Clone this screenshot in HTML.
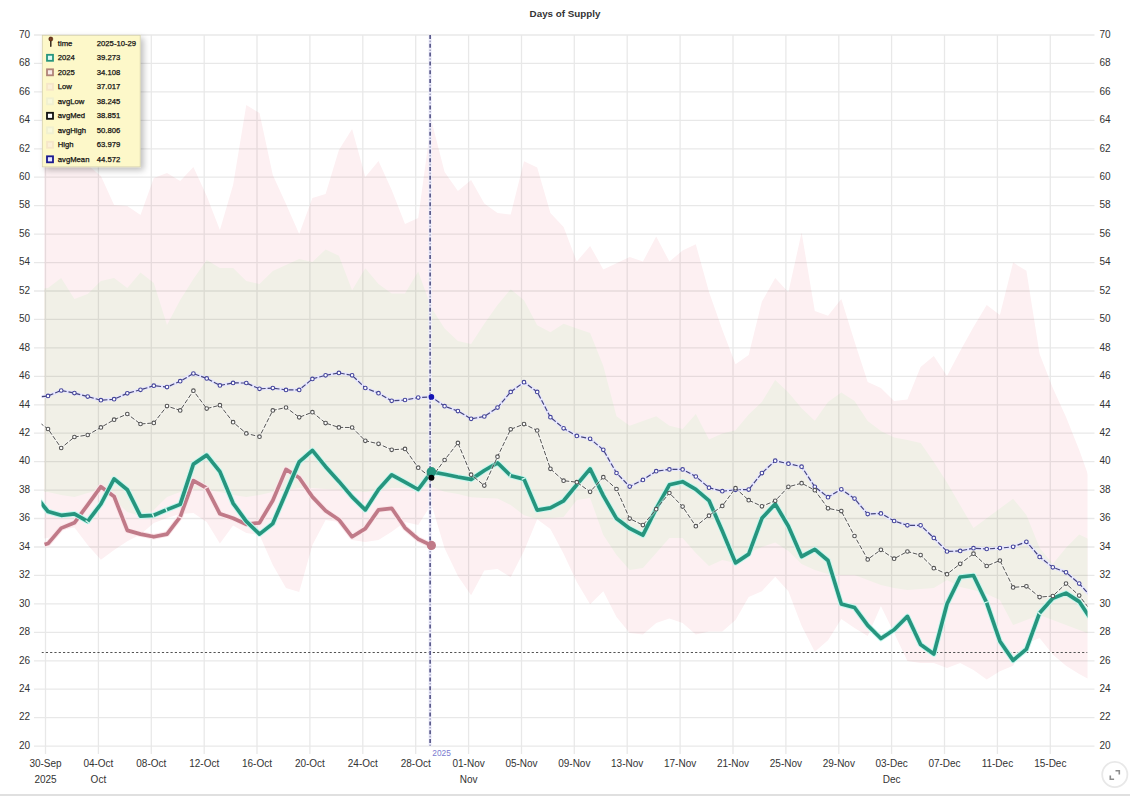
<!DOCTYPE html><html><head><meta charset="utf-8"><style>
html,body{margin:0;padding:0;background:#fff;}
body{width:1130px;height:797px;overflow:hidden;position:relative;font-family:"Liberation Sans",sans-serif;}
svg{position:absolute;left:0;top:0;}
svg text{font-family:"Liberation Sans",sans-serif;}
</style></head><body>
<svg width="1130" height="797" viewBox="0 0 1130 797">
<defs>
<clipPath id="fc"><rect x="44.3" y="34.0" width="1043.2" height="713.1"/></clipPath>
<clipPath id="pc"><rect x="41.5" y="34.0" width="1046.0" height="713.1"/></clipPath>
<filter id="sh" x="-20%" y="-20%" width="140%" height="140%"><feGaussianBlur in="SourceAlpha" stdDeviation="3"/><feOffset dx="2.5" dy="2.5"/><feComponentTransfer><feFuncA type="linear" slope="0.26"/></feComponentTransfer><feMerge><feMergeNode/><feMergeNode in="SourceGraphic"/></feMerge></filter>
</defs>
<text x="565" y="17" text-anchor="middle" font-size="9.8" font-weight="bold" fill="#333">Days of Supply</text>
<g clip-path="url(#fc)">
<polygon points="34.8,150.0 48.0,150.0 61.2,152.0 74.4,158.0 87.7,165.0 100.9,176.0 114.1,205.0 127.3,206.0 140.5,215.0 153.8,178.0 167.0,173.0 180.2,181.0 193.4,167.0 206.7,196.0 219.9,230.0 233.1,185.0 246.3,105.0 259.5,113.0 272.8,175.0 286.0,204.0 299.2,234.0 312.4,198.0 325.6,194.0 338.9,150.0 352.1,129.0 365.3,177.0 378.5,161.0 391.7,190.0 405.0,224.0 418.2,218.0 431.4,120.5 444.6,172.0 457.9,191.0 471.1,180.0 484.3,203.5 497.5,213.0 510.7,214.5 524.0,161.2 537.2,167.5 550.4,213.0 563.6,227.1 576.8,261.6 590.1,245.9 603.3,269.4 616.5,263.2 629.7,257.0 642.9,261.6 656.2,236.5 669.4,261.6 682.6,250.6 695.8,244.3 709.0,292.0 722.3,329.8 735.5,364.3 748.7,354.9 761.9,301.6 775.2,278.0 788.4,292.2 801.6,232.6 814.8,311.0 828.0,315.7 841.3,299.0 854.5,341.5 867.7,382.0 880.9,388.0 894.1,401.0 907.4,399.5 920.6,367.0 933.8,356.0 947.0,376.0 960.2,351.0 973.5,327.0 986.7,305.0 999.9,315.0 1013.1,262.6 1026.4,270.8 1039.6,354.0 1052.8,388.0 1066.0,417.0 1079.2,450.0 1092.5,487.0 1092.5,681.0 1079.2,674.0 1066.0,665.7 1052.8,654.6 1039.6,638.0 1026.4,643.6 1013.1,665.7 999.9,671.2 986.7,679.5 973.5,670.0 960.2,663.0 947.0,668.0 933.8,662.9 920.6,662.9 907.4,661.0 894.1,633.0 880.9,606.0 867.7,636.0 854.5,628.0 841.3,619.0 828.0,640.2 814.8,651.8 801.6,625.8 788.4,591.2 775.2,576.8 761.9,591.2 748.7,597.0 735.5,620.0 722.3,631.6 709.0,631.6 695.8,634.5 682.6,622.9 669.4,618.6 656.2,622.9 642.9,634.5 629.7,633.0 616.5,617.1 603.3,591.2 590.1,604.2 576.8,582.0 563.6,553.8 550.4,529.0 537.2,519.3 524.0,551.1 510.7,577.3 497.5,569.0 484.3,570.4 471.1,595.2 457.9,575.9 444.6,548.3 431.4,504.3 418.2,524.9 405.0,522.1 391.7,531.8 378.5,540.0 365.3,542.0 352.1,540.0 338.9,522.0 325.6,520.0 312.4,545.0 299.2,592.0 286.0,588.0 272.8,565.0 259.5,535.0 246.3,533.0 233.1,525.5 219.9,543.5 206.7,522.0 193.4,513.0 180.2,514.0 167.0,518.0 153.8,523.0 140.5,534.4 127.3,541.3 114.1,550.0 100.9,559.7 87.7,545.0 74.4,527.5 61.2,530.0 48.0,538.0 34.8,540.0" fill="#fdf0f2"/>
<polygon points="34.8,290.0 48.0,288.0 61.2,278.0 74.4,299.0 87.7,294.0 100.9,281.0 114.1,278.0 127.3,288.0 140.5,272.5 153.8,283.0 167.0,325.0 180.2,300.0 193.4,279.0 206.7,260.0 219.9,268.0 233.1,268.0 246.3,281.0 259.5,284.0 272.8,271.0 286.0,265.0 299.2,259.0 312.4,262.0 325.6,249.4 338.9,255.7 352.1,290.2 365.3,268.3 378.5,284.0 391.7,293.4 405.0,293.4 418.2,271.4 431.4,307.7 444.6,328.4 457.9,341.0 471.1,344.1 484.3,323.7 497.5,304.9 510.7,289.2 524.0,300.2 537.2,325.3 550.4,332.2 563.6,323.7 576.8,328.4 590.1,333.1 603.3,366.1 616.5,416.3 629.7,425.7 642.9,421.0 656.2,416.3 669.4,425.7 682.6,428.9 695.8,414.0 709.0,439.6 722.3,433.4 735.5,430.2 748.7,414.5 761.9,402.0 775.2,380.0 788.4,392.6 801.6,408.3 814.8,420.8 828.0,402.0 841.3,392.6 854.5,401.0 867.7,421.0 880.9,431.0 894.1,437.5 907.4,440.0 920.6,443.0 933.8,462.0 947.0,482.4 960.2,505.3 973.5,528.1 986.7,518.3 999.9,508.5 1013.1,498.7 1026.4,515.0 1039.6,547.7 1052.8,564.0 1066.0,547.7 1079.2,534.6 1092.5,541.0 1092.5,635.0 1079.2,630.0 1066.0,625.0 1052.8,620.0 1039.6,615.0 1026.4,620.0 1013.1,625.0 999.9,600.0 986.7,594.0 973.5,590.0 960.2,587.0 947.0,580.0 933.8,588.0 920.6,589.0 907.4,590.0 894.1,588.0 880.9,585.0 867.7,580.0 854.5,575.0 841.3,575.0 828.0,574.0 814.8,570.0 801.6,564.0 788.4,551.0 775.2,542.5 761.9,547.0 748.7,553.0 735.5,563.0 722.3,560.0 709.0,566.0 695.8,553.0 682.6,538.0 669.4,538.0 656.2,553.0 642.9,568.0 629.7,570.0 616.5,555.0 603.3,535.0 590.1,498.0 576.8,500.0 563.6,517.0 550.4,518.0 537.2,519.0 524.0,515.2 510.7,505.0 497.5,498.6 484.3,498.0 471.1,497.3 457.9,494.0 444.6,491.7 431.4,486.7 418.2,487.0 405.0,488.0 391.7,488.0 378.5,490.0 365.3,492.0 352.1,491.0 338.9,490.0 325.6,489.0 312.4,488.0 299.2,488.0 286.0,490.0 272.8,492.0 259.5,495.0 246.3,497.0 233.1,495.0 219.9,492.0 206.7,490.0 193.4,490.0 180.2,492.0 167.0,497.0 153.8,510.0 140.5,516.0 127.3,512.0 114.1,500.0 100.9,490.0 87.7,493.0 74.4,497.0 61.2,495.0 48.0,492.0 34.8,492.0" fill="#f1f0e7"/>
</g>
<path d="M34 746.1H1094.5 M34 717.7H1094.5 M34 689.2H1094.5 M34 660.8H1094.5 M34 632.3H1094.5 M34 603.9H1094.5 M34 575.4H1094.5 M34 547.0H1094.5 M34 518.5H1094.5 M34 490.1H1094.5 M34 461.7H1094.5 M34 433.2H1094.5 M34 404.8H1094.5 M34 376.3H1094.5 M34 347.9H1094.5 M34 319.4H1094.5 M34 291.0H1094.5 M34 262.6H1094.5 M34 234.1H1094.5 M34 205.7H1094.5 M34 177.2H1094.5 M34 148.8H1094.5 M34 120.3H1094.5 M34 91.9H1094.5 M34 63.4H1094.5 M34 35.0H1094.5 M45.5 35.0V754 M98.4 35.0V754 M151.3 35.0V754 M204.2 35.0V754 M257.0 35.0V754 M309.9 35.0V754 M362.8 35.0V754 M415.7 35.0V754 M468.6 35.0V754 M521.5 35.0V754 M574.3 35.0V754 M627.2 35.0V754 M680.1 35.0V754 M733.0 35.0V754 M785.9 35.0V754 M838.8 35.0V754 M891.6 35.0V754 M944.5 35.0V754 M997.4 35.0V754 M1050.3 35.0V754" stroke="#000" stroke-opacity="0.09" stroke-width="1.3" fill="none"/>
<g font-size="10" fill="#333"><text x="30" y="748.8" text-anchor="end">20</text><text x="1099.5" y="748.8">20</text><text x="30" y="720.4" text-anchor="end">22</text><text x="1099.5" y="720.4">22</text><text x="30" y="691.9" text-anchor="end">24</text><text x="1099.5" y="691.9">24</text><text x="30" y="663.5" text-anchor="end">26</text><text x="1099.5" y="663.5">26</text><text x="30" y="635.0" text-anchor="end">28</text><text x="1099.5" y="635.0">28</text><text x="30" y="606.6" text-anchor="end">30</text><text x="1099.5" y="606.6">30</text><text x="30" y="578.1" text-anchor="end">32</text><text x="1099.5" y="578.1">32</text><text x="30" y="549.7" text-anchor="end">34</text><text x="1099.5" y="549.7">34</text><text x="30" y="521.2" text-anchor="end">36</text><text x="1099.5" y="521.2">36</text><text x="30" y="492.8" text-anchor="end">38</text><text x="1099.5" y="492.8">38</text><text x="30" y="464.4" text-anchor="end">40</text><text x="1099.5" y="464.4">40</text><text x="30" y="435.9" text-anchor="end">42</text><text x="1099.5" y="435.9">42</text><text x="30" y="407.5" text-anchor="end">44</text><text x="1099.5" y="407.5">44</text><text x="30" y="379.0" text-anchor="end">46</text><text x="1099.5" y="379.0">46</text><text x="30" y="350.6" text-anchor="end">48</text><text x="1099.5" y="350.6">48</text><text x="30" y="322.1" text-anchor="end">50</text><text x="1099.5" y="322.1">50</text><text x="30" y="293.7" text-anchor="end">52</text><text x="1099.5" y="293.7">52</text><text x="30" y="265.3" text-anchor="end">54</text><text x="1099.5" y="265.3">54</text><text x="30" y="236.8" text-anchor="end">56</text><text x="1099.5" y="236.8">56</text><text x="30" y="208.4" text-anchor="end">58</text><text x="1099.5" y="208.4">58</text><text x="30" y="179.9" text-anchor="end">60</text><text x="1099.5" y="179.9">60</text><text x="30" y="151.5" text-anchor="end">62</text><text x="1099.5" y="151.5">62</text><text x="30" y="123.0" text-anchor="end">64</text><text x="1099.5" y="123.0">64</text><text x="30" y="94.6" text-anchor="end">66</text><text x="1099.5" y="94.6">66</text><text x="30" y="66.1" text-anchor="end">68</text><text x="1099.5" y="66.1">68</text><text x="30" y="37.7" text-anchor="end">70</text><text x="1099.5" y="37.7">70</text><text x="45.5" y="767" text-anchor="middle">30-Sep</text><text x="45.5" y="782.5" text-anchor="middle">2025</text><text x="98.4" y="767" text-anchor="middle">04-Oct</text><text x="98.4" y="782.5" text-anchor="middle">Oct</text><text x="151.3" y="767" text-anchor="middle">08-Oct</text><text x="204.2" y="767" text-anchor="middle">12-Oct</text><text x="257.0" y="767" text-anchor="middle">16-Oct</text><text x="309.9" y="767" text-anchor="middle">20-Oct</text><text x="362.8" y="767" text-anchor="middle">24-Oct</text><text x="415.7" y="767" text-anchor="middle">28-Oct</text><text x="468.6" y="767" text-anchor="middle">01-Nov</text><text x="468.6" y="782.5" text-anchor="middle">Nov</text><text x="521.5" y="767" text-anchor="middle">05-Nov</text><text x="574.3" y="767" text-anchor="middle">09-Nov</text><text x="627.2" y="767" text-anchor="middle">13-Nov</text><text x="680.1" y="767" text-anchor="middle">17-Nov</text><text x="733.0" y="767" text-anchor="middle">21-Nov</text><text x="785.9" y="767" text-anchor="middle">25-Nov</text><text x="838.8" y="767" text-anchor="middle">29-Nov</text><text x="891.6" y="767" text-anchor="middle">03-Dec</text><text x="891.6" y="782.5" text-anchor="middle">Dec</text><text x="944.5" y="767" text-anchor="middle">07-Dec</text><text x="997.4" y="767" text-anchor="middle">11-Dec</text><text x="1050.3" y="767" text-anchor="middle">15-Dec</text></g>
<g clip-path="url(#pc)">
<path d="M41.5 652.5H1087.5" stroke="#4a4a4a" stroke-width="0.95" stroke-dasharray="2.2 2.1"/>
<polyline points="44.6,544.6 48.0,543.6 61.2,528.1 74.4,522.8 87.7,504.8 100.9,486.7 114.1,496.5 127.3,530.4 140.5,534.1 153.8,536.8 167.0,534.1 180.2,516.8 193.4,480.7 206.7,488.2 219.9,513.8 233.1,518.3 246.3,524.3 259.5,522.8 272.8,500.5 286.0,469.4 299.2,477.7 312.4,496.9 325.6,510.7 338.9,519.7 352.1,536.8 365.3,528.6 378.5,509.9 391.7,508.3 405.0,527.8 418.2,539.2 431.4,545.4" fill="none" stroke="#fbe6ea" stroke-width="5.6" stroke-linejoin="round"/>
<polyline points="44.6,544.6 48.0,543.6 61.2,528.1 74.4,522.8 87.7,504.8 100.9,486.7 114.1,496.5 127.3,530.4 140.5,534.1 153.8,536.8 167.0,534.1 180.2,516.8 193.4,480.7 206.7,488.2 219.9,513.8 233.1,518.3 246.3,524.3 259.5,522.8 272.8,500.5 286.0,469.4 299.2,477.7 312.4,496.9 325.6,510.7 338.9,519.7 352.1,536.8 365.3,528.6 378.5,509.9 391.7,508.3 405.0,527.8 418.2,539.2 431.4,545.4" fill="none" stroke="#c07a88" stroke-width="3.7" stroke-linejoin="round"/>
<g fill="none"><path d="M179.76 518.02L180.21 516.80" stroke="#fbe6ea" stroke-width="4.2"/><path d="M206.06 487.04L206.65 488.20" stroke="#fbe6ea" stroke-width="4.2"/></g>
<polyline points="34.8,495.0 48.0,511.5 61.2,515.3 74.4,513.8 87.7,521.3 100.9,504.0 114.1,478.9 127.3,489.7 140.5,516.1 153.8,515.3 167.0,509.6 180.2,504.4 193.4,464.1 206.7,455.1 219.9,471.6 233.1,503.3 246.3,521.3 259.5,534.1 272.8,523.6 286.0,492.7 299.2,461.8 312.4,450.4 325.6,466.7 338.9,481.4 352.1,496.9 365.3,509.9 378.5,489.5 391.7,474.8 405.0,482.2 418.2,489.5 431.4,471.9 444.6,474.2 457.9,477.0 471.1,479.4 484.3,470.5 497.5,462.8 510.7,475.8 524.0,479.1 537.2,510.1 550.4,507.9 563.6,500.8 576.8,484.8 590.1,468.9 603.3,495.6 616.5,518.6 629.7,528.4 642.9,535.2 656.2,508.6 669.4,484.8 682.6,481.7 695.8,489.3 709.0,500.6 722.3,531.0 735.5,562.9 748.7,554.1 761.9,518.3 775.2,503.9 788.4,526.3 801.6,556.5 814.8,549.4 828.0,560.5 841.3,604.0 854.5,607.5 867.7,625.4 880.9,638.5 894.1,629.7 907.4,616.4 920.6,644.5 933.8,654.0 947.0,604.0 960.2,577.0 973.5,575.5 986.7,602.8 999.9,641.2 1013.1,660.4 1026.4,649.1 1039.6,612.9 1052.8,598.3 1066.0,593.1 1079.2,601.6 1092.5,621.8" fill="none" stroke="#c4f7ee" stroke-width="5.6" stroke-linejoin="round"/>
<polyline points="34.8,495.0 48.0,511.5 61.2,515.3 74.4,513.8 87.7,521.3 100.9,504.0 114.1,478.9 127.3,489.7 140.5,516.1 153.8,515.3 167.0,509.6 180.2,504.4 193.4,464.1 206.7,455.1 219.9,471.6 233.1,503.3 246.3,521.3 259.5,534.1 272.8,523.6 286.0,492.7 299.2,461.8 312.4,450.4 325.6,466.7 338.9,481.4 352.1,496.9 365.3,509.9 378.5,489.5 391.7,474.8 405.0,482.2 418.2,489.5 431.4,471.9 444.6,474.2 457.9,477.0 471.1,479.4 484.3,470.5 497.5,462.8 510.7,475.8 524.0,479.1 537.2,510.1 550.4,507.9 563.6,500.8 576.8,484.8 590.1,468.9 603.3,495.6 616.5,518.6 629.7,528.4 642.9,535.2 656.2,508.6 669.4,484.8 682.6,481.7 695.8,489.3 709.0,500.6 722.3,531.0 735.5,562.9 748.7,554.1 761.9,518.3 775.2,503.9 788.4,526.3 801.6,556.5 814.8,549.4 828.0,560.5 841.3,604.0 854.5,607.5 867.7,625.4 880.9,638.5 894.1,629.7 907.4,616.4 920.6,644.5 933.8,654.0 947.0,604.0 960.2,577.0 973.5,575.5 986.7,602.8 999.9,641.2 1013.1,660.4 1026.4,649.1 1039.6,612.9 1052.8,598.3 1066.0,593.1 1079.2,601.6 1092.5,621.8" fill="none" stroke="#26957e" stroke-width="3.7" stroke-linejoin="round"/>
<g fill="none"><path d="M86.87 522.33L87.66 521.30" stroke="#d4faf2" stroke-width="4.2"/><path d="M152.57 515.81L153.77 515.30" stroke="#d4faf2" stroke-width="4.2"/><path d="M165.78 510.08L166.99 509.60" stroke="#d4faf2" stroke-width="4.2"/><path d="M509.47 475.49L510.74 475.80" stroke="#d4faf2" stroke-width="4.2"/><path d="M523.45 477.90L523.96 479.10" stroke="#d4faf2" stroke-width="4.2"/><path d="M986.27 601.57L986.69 602.80" stroke="#d4faf2" stroke-width="4.2"/><path d="M1038.70 613.86L1039.58 612.90" stroke="#d4faf2" stroke-width="4.2"/></g>
<polyline points="34.8,397.5 48.0,395.9 61.2,390.5 74.4,393.1 87.7,396.6 100.9,400.2 114.1,399.2 127.3,393.3 140.5,389.8 153.8,385.7 167.0,387.1 180.2,381.2 193.4,373.5 206.7,378.4 219.9,385.4 233.1,382.9 246.3,383.0 259.5,388.8 272.8,388.1 286.0,389.9 299.2,389.9 312.4,378.9 325.6,375.3 338.9,372.9 352.1,375.3 365.3,388.0 378.5,393.2 391.7,400.8 405.0,400.0 418.2,397.6 431.4,396.9 444.6,406.2 457.9,411.1 471.1,418.8 484.3,416.5 497.5,407.6 510.7,391.9 524.0,382.2 537.2,391.9 550.4,417.2 563.6,428.3 576.8,435.9 590.1,438.8 603.3,449.8 616.5,473.0 629.7,486.6 642.9,479.9 656.2,471.2 669.4,469.4 682.6,469.4 695.8,476.5 709.0,487.7 722.3,491.2 735.5,489.8 748.7,489.6 761.9,473.1 775.2,460.7 788.4,463.7 801.6,466.7 814.8,486.8 828.0,497.2 841.3,489.3 854.5,498.6 867.7,514.1 880.9,513.4 894.1,521.0 907.4,525.3 920.6,525.3 933.8,537.9 947.0,551.5 960.2,550.9 973.5,548.2 986.7,549.0 999.9,548.1 1013.1,546.8 1026.4,541.8 1039.6,556.9 1052.8,567.3 1066.0,572.3 1079.2,583.6 1092.5,598.2" fill="none" stroke="#e4e4ff" stroke-width="3.2" stroke-linejoin="round"/>
<polyline points="34.8,397.5 48.0,395.9 61.2,390.5 74.4,393.1 87.7,396.6 100.9,400.2 114.1,399.2 127.3,393.3 140.5,389.8 153.8,385.7 167.0,387.1 180.2,381.2 193.4,373.5 206.7,378.4 219.9,385.4 233.1,382.9 246.3,383.0 259.5,388.8 272.8,388.1 286.0,389.9 299.2,389.9 312.4,378.9 325.6,375.3 338.9,372.9 352.1,375.3 365.3,388.0 378.5,393.2 391.7,400.8 405.0,400.0 418.2,397.6 431.4,396.9 444.6,406.2 457.9,411.1 471.1,418.8 484.3,416.5 497.5,407.6 510.7,391.9 524.0,382.2 537.2,391.9 550.4,417.2 563.6,428.3 576.8,435.9 590.1,438.8 603.3,449.8 616.5,473.0 629.7,486.6 642.9,479.9 656.2,471.2 669.4,469.4 682.6,469.4 695.8,476.5 709.0,487.7 722.3,491.2 735.5,489.8 748.7,489.6 761.9,473.1 775.2,460.7 788.4,463.7 801.6,466.7 814.8,486.8 828.0,497.2 841.3,489.3 854.5,498.6 867.7,514.1 880.9,513.4 894.1,521.0 907.4,525.3 920.6,525.3 933.8,537.9 947.0,551.5 960.2,550.9 973.5,548.2 986.7,549.0 999.9,548.1 1013.1,546.8 1026.4,541.8 1039.6,556.9 1052.8,567.3 1066.0,572.3 1079.2,583.6 1092.5,598.2" fill="none" stroke="#45457a" stroke-width="1.15" stroke-dasharray="5 2"/>
<polyline points="34.8,419.0 48.0,429.0 61.2,448.0 74.4,437.0 87.7,435.0 100.9,427.4 114.1,419.7 127.3,414.0 140.5,424.0 153.8,422.9 167.0,406.1 180.2,410.4 193.4,390.7 206.7,408.6 219.9,405.2 233.1,422.2 246.3,433.4 259.5,436.7 272.8,410.4 286.0,407.5 299.2,417.3 312.4,412.2 325.6,423.1 338.9,427.4 352.1,427.5 365.3,440.8 378.5,443.8 391.7,449.8 405.0,448.9 418.2,467.7 431.4,477.8 444.6,460.0 457.9,442.9 471.1,474.7 484.3,485.6 497.5,456.7 510.7,429.3 524.0,424.1 537.2,430.5 550.4,468.8 563.6,480.7 576.8,482.2 590.1,491.8 603.3,477.2 616.5,489.0 629.7,518.6 642.9,525.1 656.2,509.2 669.4,493.0 682.6,506.6 695.8,526.2 709.0,515.7 722.3,505.9 735.5,488.2 748.7,500.2 761.9,506.3 775.2,500.8 788.4,486.8 801.6,483.2 814.8,490.2 828.0,508.3 841.3,511.1 854.5,536.0 867.7,559.4 880.9,549.8 894.1,558.7 907.4,551.5 920.6,555.1 933.8,568.2 947.0,574.2 960.2,563.8 973.5,553.7 986.7,566.0 999.9,560.5 1013.1,587.4 1026.4,586.3 1039.6,597.1 1052.8,596.0 1066.0,583.6 1079.2,595.6 1092.5,612.8" fill="none" stroke="#ffffff" stroke-opacity="0.35" stroke-width="3" stroke-linejoin="round"/>
<polyline points="34.8,419.0 48.0,429.0 61.2,448.0 74.4,437.0 87.7,435.0 100.9,427.4 114.1,419.7 127.3,414.0 140.5,424.0 153.8,422.9 167.0,406.1 180.2,410.4 193.4,390.7 206.7,408.6 219.9,405.2 233.1,422.2 246.3,433.4 259.5,436.7 272.8,410.4 286.0,407.5 299.2,417.3 312.4,412.2 325.6,423.1 338.9,427.4 352.1,427.5 365.3,440.8 378.5,443.8 391.7,449.8 405.0,448.9 418.2,467.7 431.4,477.8 444.6,460.0 457.9,442.9 471.1,474.7 484.3,485.6 497.5,456.7 510.7,429.3 524.0,424.1 537.2,430.5 550.4,468.8 563.6,480.7 576.8,482.2 590.1,491.8 603.3,477.2 616.5,489.0 629.7,518.6 642.9,525.1 656.2,509.2 669.4,493.0 682.6,506.6 695.8,526.2 709.0,515.7 722.3,505.9 735.5,488.2 748.7,500.2 761.9,506.3 775.2,500.8 788.4,486.8 801.6,483.2 814.8,490.2 828.0,508.3 841.3,511.1 854.5,536.0 867.7,559.4 880.9,549.8 894.1,558.7 907.4,551.5 920.6,555.1 933.8,568.2 947.0,574.2 960.2,563.8 973.5,553.7 986.7,566.0 999.9,560.5 1013.1,587.4 1026.4,586.3 1039.6,597.1 1052.8,596.0 1066.0,583.6 1079.2,595.6 1092.5,612.8" fill="none" stroke="#555" stroke-width="1.0" stroke-dasharray="4.5 1.8"/>
<g fill="#fff" stroke="#45459c" stroke-width="1.1"><circle cx="48.0" cy="395.9" r="1.8"/><circle cx="61.2" cy="390.5" r="1.8"/><circle cx="74.4" cy="393.1" r="1.8"/><circle cx="87.7" cy="396.6" r="1.8"/><circle cx="100.9" cy="400.2" r="1.8"/><circle cx="114.1" cy="399.2" r="1.8"/><circle cx="127.3" cy="393.3" r="1.8"/><circle cx="140.5" cy="389.8" r="1.8"/><circle cx="153.8" cy="385.7" r="1.8"/><circle cx="167.0" cy="387.1" r="1.8"/><circle cx="180.2" cy="381.2" r="1.8"/><circle cx="193.4" cy="373.5" r="1.8"/><circle cx="206.7" cy="378.4" r="1.8"/><circle cx="219.9" cy="385.4" r="1.8"/><circle cx="233.1" cy="382.9" r="1.8"/><circle cx="246.3" cy="383.0" r="1.8"/><circle cx="259.5" cy="388.8" r="1.8"/><circle cx="272.8" cy="388.1" r="1.8"/><circle cx="286.0" cy="389.9" r="1.8"/><circle cx="299.2" cy="389.9" r="1.8"/><circle cx="312.4" cy="378.9" r="1.8"/><circle cx="325.6" cy="375.3" r="1.8"/><circle cx="338.9" cy="372.9" r="1.8"/><circle cx="352.1" cy="375.3" r="1.8"/><circle cx="365.3" cy="388.0" r="1.8"/><circle cx="378.5" cy="393.2" r="1.8"/><circle cx="391.7" cy="400.8" r="1.8"/><circle cx="405.0" cy="400.0" r="1.8"/><circle cx="418.2" cy="397.6" r="1.8"/><circle cx="444.6" cy="406.2" r="1.8"/><circle cx="457.9" cy="411.1" r="1.8"/><circle cx="471.1" cy="418.8" r="1.8"/><circle cx="484.3" cy="416.5" r="1.8"/><circle cx="497.5" cy="407.6" r="1.8"/><circle cx="510.7" cy="391.9" r="1.8"/><circle cx="524.0" cy="382.2" r="1.8"/><circle cx="537.2" cy="391.9" r="1.8"/><circle cx="550.4" cy="417.2" r="1.8"/><circle cx="563.6" cy="428.3" r="1.8"/><circle cx="576.8" cy="435.9" r="1.8"/><circle cx="590.1" cy="438.8" r="1.8"/><circle cx="603.3" cy="449.8" r="1.8"/><circle cx="616.5" cy="473.0" r="1.8"/><circle cx="629.7" cy="486.6" r="1.8"/><circle cx="642.9" cy="479.9" r="1.8"/><circle cx="656.2" cy="471.2" r="1.8"/><circle cx="669.4" cy="469.4" r="1.8"/><circle cx="682.6" cy="469.4" r="1.8"/><circle cx="695.8" cy="476.5" r="1.8"/><circle cx="709.0" cy="487.7" r="1.8"/><circle cx="722.3" cy="491.2" r="1.8"/><circle cx="735.5" cy="489.8" r="1.8"/><circle cx="748.7" cy="489.6" r="1.8"/><circle cx="761.9" cy="473.1" r="1.8"/><circle cx="775.2" cy="460.7" r="1.8"/><circle cx="788.4" cy="463.7" r="1.8"/><circle cx="801.6" cy="466.7" r="1.8"/><circle cx="814.8" cy="486.8" r="1.8"/><circle cx="828.0" cy="497.2" r="1.8"/><circle cx="841.3" cy="489.3" r="1.8"/><circle cx="854.5" cy="498.6" r="1.8"/><circle cx="867.7" cy="514.1" r="1.8"/><circle cx="880.9" cy="513.4" r="1.8"/><circle cx="894.1" cy="521.0" r="1.8"/><circle cx="907.4" cy="525.3" r="1.8"/><circle cx="920.6" cy="525.3" r="1.8"/><circle cx="933.8" cy="537.9" r="1.8"/><circle cx="947.0" cy="551.5" r="1.8"/><circle cx="960.2" cy="550.9" r="1.8"/><circle cx="973.5" cy="548.2" r="1.8"/><circle cx="986.7" cy="549.0" r="1.8"/><circle cx="999.9" cy="548.1" r="1.8"/><circle cx="1013.1" cy="546.8" r="1.8"/><circle cx="1026.4" cy="541.8" r="1.8"/><circle cx="1039.6" cy="556.9" r="1.8"/><circle cx="1052.8" cy="567.3" r="1.8"/><circle cx="1066.0" cy="572.3" r="1.8"/><circle cx="1079.2" cy="583.6" r="1.8"/><circle cx="1092.5" cy="598.2" r="1.8"/></g>
<g fill="#fff" stroke="#555" stroke-width="1.1"><circle cx="48.0" cy="429.0" r="1.8"/><circle cx="61.2" cy="448.0" r="1.8"/><circle cx="74.4" cy="437.0" r="1.8"/><circle cx="87.7" cy="435.0" r="1.8"/><circle cx="100.9" cy="427.4" r="1.8"/><circle cx="114.1" cy="419.7" r="1.8"/><circle cx="127.3" cy="414.0" r="1.8"/><circle cx="140.5" cy="424.0" r="1.8"/><circle cx="153.8" cy="422.9" r="1.8"/><circle cx="167.0" cy="406.1" r="1.8"/><circle cx="180.2" cy="410.4" r="1.8"/><circle cx="193.4" cy="390.7" r="1.8"/><circle cx="206.7" cy="408.6" r="1.8"/><circle cx="219.9" cy="405.2" r="1.8"/><circle cx="233.1" cy="422.2" r="1.8"/><circle cx="246.3" cy="433.4" r="1.8"/><circle cx="259.5" cy="436.7" r="1.8"/><circle cx="272.8" cy="410.4" r="1.8"/><circle cx="286.0" cy="407.5" r="1.8"/><circle cx="299.2" cy="417.3" r="1.8"/><circle cx="312.4" cy="412.2" r="1.8"/><circle cx="325.6" cy="423.1" r="1.8"/><circle cx="338.9" cy="427.4" r="1.8"/><circle cx="352.1" cy="427.5" r="1.8"/><circle cx="365.3" cy="440.8" r="1.8"/><circle cx="378.5" cy="443.8" r="1.8"/><circle cx="391.7" cy="449.8" r="1.8"/><circle cx="405.0" cy="448.9" r="1.8"/><circle cx="418.2" cy="467.7" r="1.8"/><circle cx="444.6" cy="460.0" r="1.8"/><circle cx="457.9" cy="442.9" r="1.8"/><circle cx="471.1" cy="474.7" r="1.8"/><circle cx="484.3" cy="485.6" r="1.8"/><circle cx="497.5" cy="456.7" r="1.8"/><circle cx="510.7" cy="429.3" r="1.8"/><circle cx="524.0" cy="424.1" r="1.8"/><circle cx="537.2" cy="430.5" r="1.8"/><circle cx="550.4" cy="468.8" r="1.8"/><circle cx="563.6" cy="480.7" r="1.8"/><circle cx="576.8" cy="482.2" r="1.8"/><circle cx="590.1" cy="491.8" r="1.8"/><circle cx="603.3" cy="477.2" r="1.8"/><circle cx="616.5" cy="489.0" r="1.8"/><circle cx="629.7" cy="518.6" r="1.8"/><circle cx="642.9" cy="525.1" r="1.8"/><circle cx="656.2" cy="509.2" r="1.8"/><circle cx="669.4" cy="493.0" r="1.8"/><circle cx="682.6" cy="506.6" r="1.8"/><circle cx="695.8" cy="526.2" r="1.8"/><circle cx="709.0" cy="515.7" r="1.8"/><circle cx="722.3" cy="505.9" r="1.8"/><circle cx="735.5" cy="488.2" r="1.8"/><circle cx="748.7" cy="500.2" r="1.8"/><circle cx="761.9" cy="506.3" r="1.8"/><circle cx="775.2" cy="500.8" r="1.8"/><circle cx="788.4" cy="486.8" r="1.8"/><circle cx="801.6" cy="483.2" r="1.8"/><circle cx="814.8" cy="490.2" r="1.8"/><circle cx="828.0" cy="508.3" r="1.8"/><circle cx="841.3" cy="511.1" r="1.8"/><circle cx="854.5" cy="536.0" r="1.8"/><circle cx="867.7" cy="559.4" r="1.8"/><circle cx="880.9" cy="549.8" r="1.8"/><circle cx="894.1" cy="558.7" r="1.8"/><circle cx="907.4" cy="551.5" r="1.8"/><circle cx="920.6" cy="555.1" r="1.8"/><circle cx="933.8" cy="568.2" r="1.8"/><circle cx="947.0" cy="574.2" r="1.8"/><circle cx="960.2" cy="563.8" r="1.8"/><circle cx="973.5" cy="553.7" r="1.8"/><circle cx="986.7" cy="566.0" r="1.8"/><circle cx="999.9" cy="560.5" r="1.8"/><circle cx="1013.1" cy="587.4" r="1.8"/><circle cx="1026.4" cy="586.3" r="1.8"/><circle cx="1039.6" cy="597.1" r="1.8"/><circle cx="1052.8" cy="596.0" r="1.8"/><circle cx="1066.0" cy="583.6" r="1.8"/><circle cx="1079.2" cy="595.6" r="1.8"/><circle cx="1092.5" cy="612.8" r="1.8"/></g>
</g>
<path d="M430.1 35.0V746.1" stroke="#eeeefc" stroke-width="3.2"/>
<path d="M430.1 35.0V746.1" stroke="#8a8ab0" stroke-width="1.2" stroke-dasharray="1.6 7.2" stroke-dashoffset="-5.6"/>
<path d="M430.1 35.0V746.1" stroke="#2c2c68" stroke-width="1.3" stroke-dasharray="4 4.8"/>
<circle cx="431.4" cy="545.4" r="4.6" fill="#c07a88"/>
<circle cx="431.4" cy="471.9" r="4.8" fill="#26957e"/>
<circle cx="431.4" cy="477.8" r="3" fill="#000"/>
<circle cx="431.4" cy="396.9" r="2.8" fill="#1414b4"/>
<text x="432.3" y="755.7" font-size="8.3" fill="#7a7ad0">2025</text>
<g filter="url(#sh)"><rect x="42.3" y="35.3" width="97.9" height="131.6" fill="#fdf8c9" stroke="#d4d0ac" stroke-width="0.8"/></g>
<g font-size="7.7" fill="#111" stroke="#111" stroke-width="0.25"><text x="57.8" y="45.9">time</text><text x="96.8" y="45.9">2025-10-29</text><text x="57.8" y="60.4">2024</text><text x="96.8" y="60.4">39.273</text><rect x="47" y="54.8" width="6" height="6" fill="#dcfaf4" stroke="#26957e" stroke-width="1.8"/><text x="57.8" y="74.9">2025</text><text x="96.8" y="74.9">34.108</text><rect x="47" y="69.3" width="6" height="6" fill="#f8ece8" stroke="#b08478" stroke-width="1.8"/><text x="57.8" y="89.4">Low</text><text x="96.8" y="89.4">37.017</text><rect x="47" y="83.8" width="6" height="6" fill="#fbf0d8" stroke="#f5e6c8" stroke-width="1.8"/><text x="57.8" y="103.9">avgLow</text><text x="96.8" y="103.9">38.245</text><rect x="47" y="98.3" width="6" height="6" fill="#f8f8dc" stroke="#f0f0d0" stroke-width="1.8"/><text x="57.8" y="118.4">avgMed</text><text x="96.8" y="118.4">38.851</text><rect x="47" y="112.8" width="6" height="6" fill="#ffffff" stroke="#111" stroke-width="1.8"/><text x="57.8" y="132.9">avgHigh</text><text x="96.8" y="132.9">50.806</text><rect x="47" y="127.3" width="6" height="6" fill="#f8f8dc" stroke="#f0f0d0" stroke-width="1.8"/><text x="57.8" y="147.4">High</text><text x="96.8" y="147.4">63.979</text><rect x="47" y="141.8" width="6" height="6" fill="#fbf0d8" stroke="#f5e6c8" stroke-width="1.8"/><text x="57.8" y="161.9">avgMean</text><text x="96.8" y="161.9">44.572</text><rect x="47" y="156.3" width="6" height="6" fill="#e8e8ff" stroke="#1a1a90" stroke-width="1.8"/><path d="M50.8 40V46.2" stroke="#2a1a10" stroke-width="1.4" stroke-linecap="round"/><circle cx="50.8" cy="39" r="2.2" fill="#7a3a1a"/><circle cx="50.8" cy="39" r="0.8" fill="#b07050"/></g>
<circle cx="1114.8" cy="774.5" r="12.6" fill="#fff" stroke="#e8e8e8" stroke-width="1.8"/>
<path d="M1115.5 770.8H1119.3V774.6 M1110.3 775.4V779.2H1114.1" fill="none" stroke="#8c8c8c" stroke-width="1.6"/>
<path d="M0 795H1130" stroke="#e0e0e0" stroke-width="2"/>
</svg></body></html>
